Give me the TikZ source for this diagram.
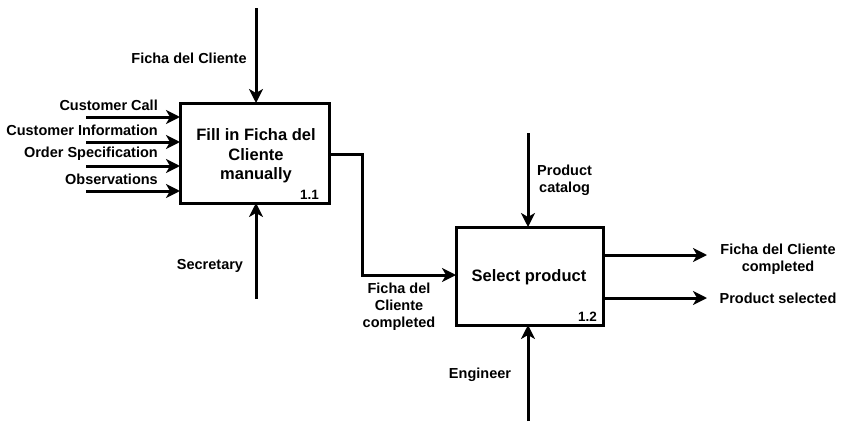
\documentclass[tikz,border=0pt]{standalone}
\usepackage{fontspec}
\setmainfont{Liberation Sans}
\usetikzlibrary{arrows.meta}
\begin{document}
\begin{tikzpicture}[x=1pt,y=-1pt,
  proc/.style={draw,line width=3pt,inner sep=0pt},
  flow/.style={line width=3pt,-{Stealth[length=14pt,width=14pt,inset=4pt]}},
  lbl/.style={font=\bfseries\fontsize{14.5}{17}\selectfont,inner sep=0pt,align=center},
  ttl/.style={font=\bfseries\fontsize{16.5}{19.5}\selectfont,inner sep=0pt,align=center},
  num/.style={font=\bfseries\fontsize{13.5}{15}\selectfont,inner sep=0pt}]
\useasboundingbox (0,0) rectangle (842,423);
% boxes
\draw[proc] (180,103) rectangle (329,203);
\node[ttl] (t1) at (256,156) {Fill in Ficha del\\Cliente\\manually};
\node[num,anchor=south east] (n1) at (319,200) {1.1};
\draw[proc] (456,227) rectangle (603,325);
\node[ttl] (t2) at (529,277) {Select product};
\node[num,anchor=south east] (n2) at (597,322) {1.2};
% inputs box 1
\foreach \y/\t [count=\i] in {117/Customer Call,142/Customer Information,166/Order Specification,191/Observations}{
  \coordinate (s\i) at (86,\y);
  \coordinate (e\i) at (180,\y);
  \draw[flow] (s\i) -- (e\i);
  \node[lbl,anchor=east] (l\i) at (158,\y-12) {\t};
}
% control box1
\coordinate (c1s) at (256,8);
\coordinate (c1e) at (256,103);
\draw[flow] (c1s) -- (c1e);
\node[lbl] (c1l) at (189,58) {Ficha del Cliente};
% mechanism box1
\coordinate (m1s) at (256,299);
\coordinate (m1e) at (256,203);
\draw[flow] (m1s) -- (m1e);
\node[lbl] (m1l) at (210,266) {Secretary};
% output box1 -> box2
\coordinate (o1s) at (329,154);
\coordinate (o1e) at (456,275);
\draw[flow] (o1s) -- (362,154) -- (362,275) -- (o1e);
\node[lbl] (o1l) at (399,307) {Ficha del\\Cliente\\completed};
% control box2
\coordinate (c2s) at (528,133);
\coordinate (c2e) at (528,227);
\draw[flow] (c2s) -- (c2e);
\node[lbl,anchor=west,align=center] (c2l) at (537,180) {Product\\catalog};
% mechanism box2
\coordinate (m2s) at (528,421);
\coordinate (m2e) at (528,325);
\draw[flow] (m2s) -- (m2e);
\node[lbl] (m2l) at (480,375) {Engineer};
% outputs box2
\coordinate (p1s) at (603,255);
\coordinate (p1e) at (707,255);
\draw[flow] (p1s) -- (p1e);
\node[lbl] (p1l) at (778,259) {Ficha del Cliente\\completed};
\coordinate (p2s) at (603,298);
\coordinate (p2e) at (707,298);
\draw[flow] (p2s) -- (p2e);
\node[lbl] (p2l) at (778,298) {Product selected};
\end{tikzpicture}
\end{document}
